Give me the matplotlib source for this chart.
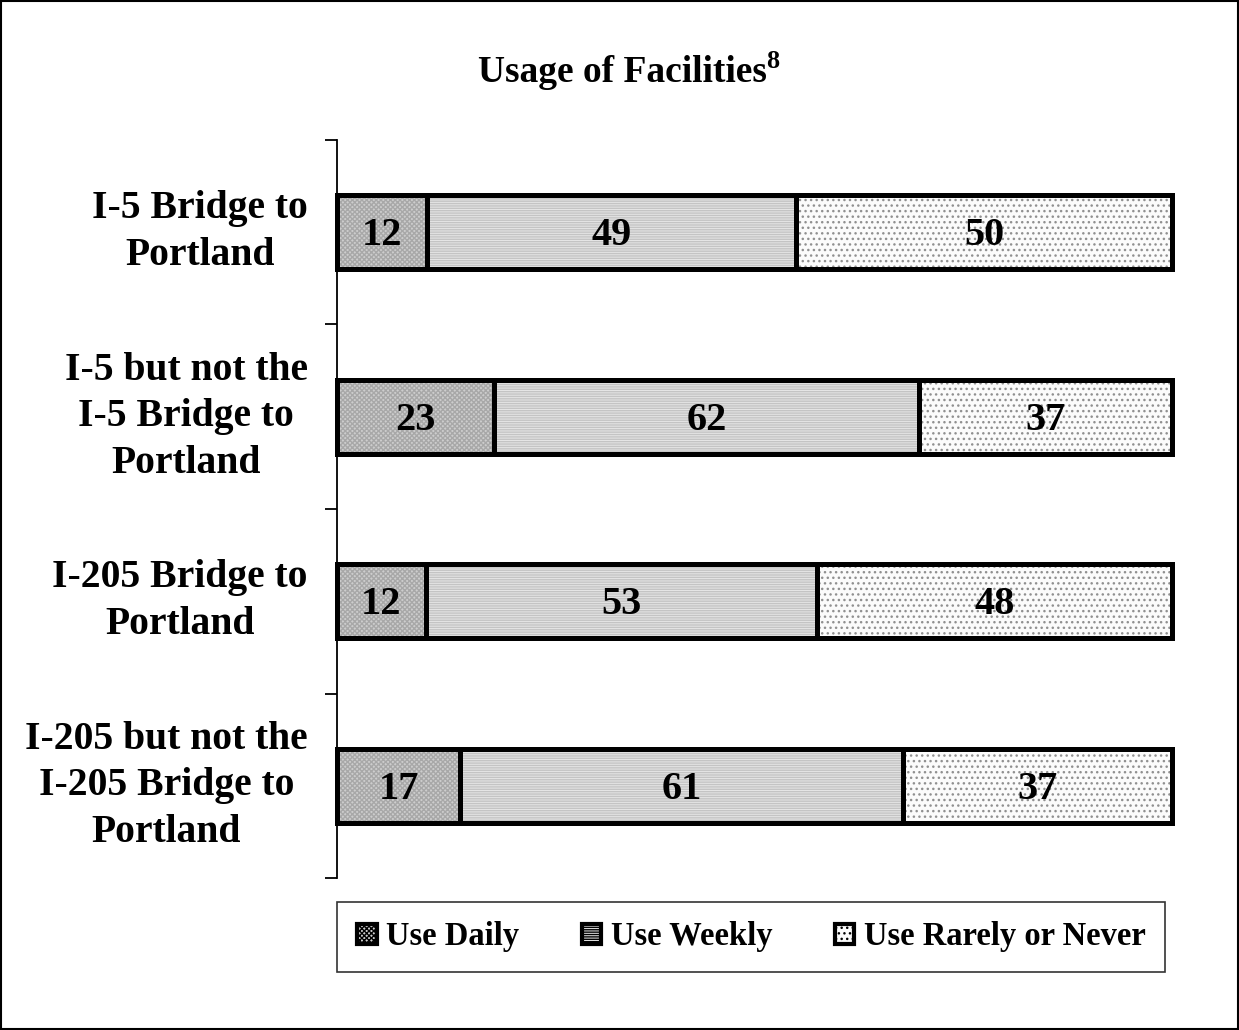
import matplotlib
matplotlib.use("Agg")
import matplotlib.pyplot as plt
from matplotlib.patches import Patch, Rectangle
import numpy as np

categories = ["I-5 Bridge to\nPortland",
              "I-5 but not the\nI-5 Bridge to\nPortland",
              "I-205 Bridge to\nPortland",
              "I-205 but not the\nI-205 Bridge to\nPortland"]
series_names = ["Use Daily", "Use Weekly", "Use Rarely or Never"]
daily = [12, 23, 12, 17]
weekly = [49, 62, 53, 61]
rarely = [50, 37, 48, 37]

plt.rcParams['font.family'] = ['Liberation Serif', 'DejaVu Serif']
plt.rcParams['font.weight'] = 'bold'

fig = plt.figure(figsize=(12.39, 10.30), dpi=100)
ax = fig.add_axes([337/1239, 152/1030, 835/1239, 738/1030])

vals = np.array([daily, weekly, rarely], dtype=float)
totals = vals.sum(axis=0)
fracs = vals / totals

faces = ['#cdcdcd', '#e6e6e6', '#fbfbfb']
hcolors = ['#a8a8a8', '#c4c4c4', '#909090']
hatches = ['xxxxxxx', '-------', '...']

y = np.arange(len(categories))
left = np.zeros(len(categories))
h = 0.40
for i in range(3):
    ax.barh(y, fracs[i], left=left, height=h, color=faces[i], edgecolor=hcolors[i],
            hatch=hatches[i], linewidth=0, zorder=2)
    ax.barh(y, fracs[i], left=left, height=h, color='none', edgecolor='black',
            linewidth=3.6, zorder=3, clip_on=False)
    for j in range(len(categories)):
        ax.text(left[j] + fracs[i][j] / 2, y[j] + 0.02, f"{int(vals[i][j])}",
                ha='center', va='center', fontsize=29, fontweight='bold', zorder=4)
    left += fracs[i]

ax.set_xlim(0, 1)
ax.set_ylim(len(categories) - 0.5, -0.5)
for s in ['top', 'right', 'bottom']:
    ax.spines[s].set_visible(False)
ax.spines['left'].set_linewidth(1.3)
ax.set_xticks([])
ax.set_yticks(y)
ax.set_yticklabels(categories, fontsize=28.5, fontweight='bold', multialignment='center',
                   linespacing=1.34)
for lab in ax.get_yticklabels():
    lab.set_va('center')
ax.tick_params(axis='y', which='major', length=0, pad=21)
ax.set_yticks(np.arange(-0.5, len(categories)), minor=True)
ax.tick_params(axis='y', which='minor', length=9, width=1.3)

t = fig.text(0.502, 0.930, "Usage of Facilities", ha='center', va='center',
             fontsize=27, fontweight='bold')
fig.canvas.draw()
ax.annotate("8", xy=(1, 1), xycoords=t, xytext=(0, 3), textcoords='offset points',
            ha='left', va='top', fontsize=19, fontweight='bold')

handles = [Patch(facecolor=faces[i], edgecolor='black', hatch=hatches[i], linewidth=3)
           for i in range(3)]
leg = fig.legend(handles, series_names, loc='center', ncol=3,
                 bbox_to_anchor=(0.6065, 0.0903), frameon=True,
                 fancybox=False, edgecolor='black', handlelength=0.6, handleheight=0.6,
                 handletextpad=0.3, columnspacing=1.9, borderpad=0.6,
                 prop={'size': 23.5, 'weight': 'bold'})
leg.get_frame().set_linewidth(1.2)

fig.patches.append(Rectangle((0.001, 0.001), 0.998, 0.998, transform=fig.transFigure,
                             fill=False, edgecolor='black', linewidth=1.5))

fig.savefig("out.png", dpi=100)
